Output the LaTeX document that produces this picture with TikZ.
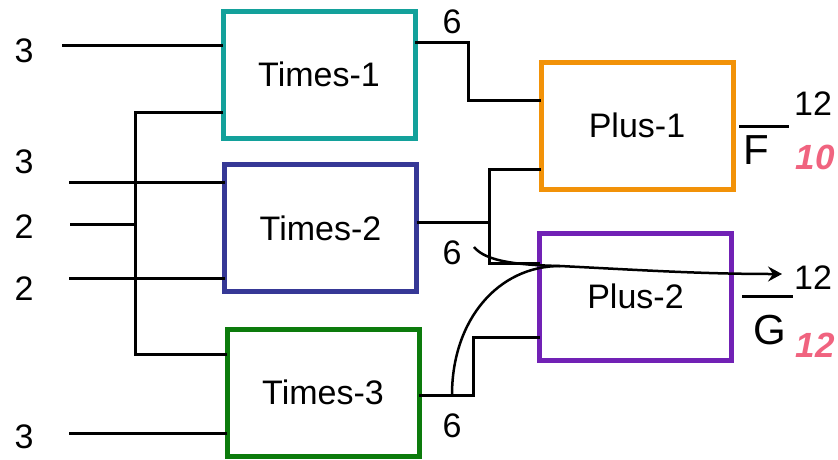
\documentclass[tikz,border=0pt]{standalone}
\usepackage{fontspec}
\setmainfont{Liberation Sans}
\usetikzlibrary{arrows.meta}
\definecolor{tealbox}{HTML}{13A19B}
\definecolor{navybox}{HTML}{363896}
\definecolor{greenbox}{HTML}{0C7B0C}
\definecolor{orangebox}{HTML}{F29208}
\definecolor{purplebox}{HTML}{7121B5}
\definecolor{pinkval}{HTML}{F0637F}
\tikzset{
  gate/.style={draw=#1, line width=5pt, outer sep=0pt, inner sep=0pt,
    minimum width=192pt, minimum height=127pt, font=\fontsize{34}{40}\selectfont},
  wire/.style={line width=3pt},
  flow/.style={line width=2.5pt},
  val/.style={inner sep=0pt, font=\fontsize{34}{40}\selectfont},
  varname/.style={inner sep=0pt, font=\fontsize{42}{48}\selectfont},
  oldval/.style={inner sep=0pt, text=pinkval, font=\fontsize{35}{40}\selectfont\bfseries\itshape},
}
\begin{document}
\begin{tikzpicture}[x=1pt,y=-1pt]
\useasboundingbox (0,0) rectangle (838,459);

% gates
\node[gate=tealbox]   (t1) at (319,74.5) {Times-1};
\node[gate=navybox]   (t2) at (320.5,228) {Times-2};
\node[gate=greenbox]  (t3) at (323,392.5) {Times-3};
\node[gate=orangebox] (p1) at (637,125.5) {Plus-1};
\node[gate=purplebox] (p2) at (635.5,296.5) {Plus-2};

% input values
\node[val] (i1) at (24,51)  {3};
\node[val] (i2) at (24,162) {3};
\node[val] (i3) at (24,227) {2};
\node[val] (i4) at (24,289) {2};
\node[val] (i5) at (24,437) {3};

% input wires
\coordinate (a1) at (62,45);
\coordinate (a2) at (69,182);
\coordinate (a3) at (70,224);
\coordinate (a4) at (69,278);
\coordinate (a5) at (69,433);
\draw[wire] (a1) -- (a1 -| t1.west);
\draw[wire] (a2) -- (a2 -| t2.west);
\draw[wire] (a4) -- (a4 -| t2.west);
\draw[wire] (a5) -- (a5 -| t3.west);

% shared bus fed by the middle input
\coordinate (bt) at (135,112);
\coordinate (bb) at (135,354);
\draw[wire] (a3) -- (a3 -| bt);
\draw[wire] (t1.west |- bt) -- (bt) -- (bb) -- (t3.west |- bb);

% Times-1 to Plus-1
\coordinate (o1) at (468,42);
\coordinate (o1b) at (468,100);
\draw[wire] (t1.east |- o1) -- (o1) -- (o1b) -- (p1.west |- o1b);
\node[val] (v1) at (452,22) {6};

% Times-2 to both adders
\coordinate (o2) at (489,222);
\coordinate (o2t) at (489,169);
\coordinate (o2b) at (489,263);
\draw[wire] (t2.east |- o2) -- (o2);
\draw[wire] (p1.west |- o2t) -- (o2t) -- (o2b) -- (p2.west |- o2b);
\node[val] (v2) at (452,253) {6};

% Times-3 to Plus-2
\coordinate (o3) at (473,395);
\coordinate (o3t) at (473,337);
\draw[wire] (t3.east |- o3) -- (o3) -- (o3t) -- (p2.west |- o3t);
\node[val] (v3) at (452,426) {6};

% outputs
\coordinate (f0) at (739,126);
\coordinate (f1) at (789,126);
\coordinate (g0) at (742,296);
\coordinate (g1) at (793,296);
\draw[wire] (f0) -- (f1);
\draw[wire] (g0) -- (g1);
\node[val] (fv)  at (813,104) {12};
\node[varname] (fn)  at (756,150) {F};
\node[oldval] (fo) at (815,157) {10};
\node[val] (gv)  at (813,278) {12};
\node[varname] (gn)  at (770,330) {G};
\node[oldval] (go) at (815,345) {12};

% flow of the sixes into the new value of G
\coordinate (c0) at (474,247);
\coordinate (cm) at (560,266);
\coordinate (c3) at (452,395);
\coordinate (ce) at (782,274);
\draw[flow] (c0) .. controls (486,262) and (520,265) .. (cm);
\draw[flow] (c3) .. controls (452,320) and (498,266) .. (cm);
\draw[flow, -{Stealth[length=14pt,width=15pt,inset=5pt]}]
  (cm) .. controls (640,270) and (700,274) .. (ce);
\end{tikzpicture}
\end{document}
